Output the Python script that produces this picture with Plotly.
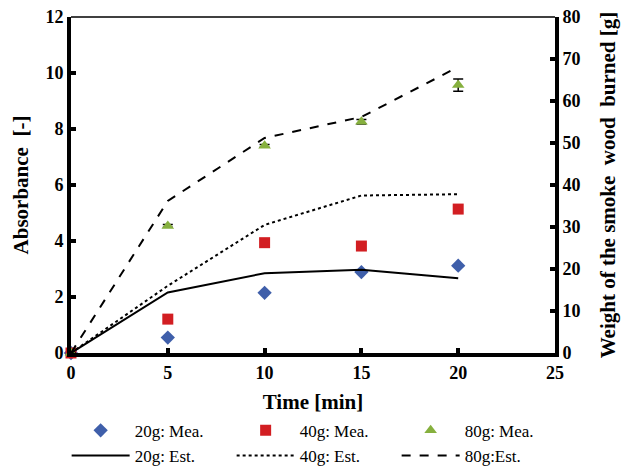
import plotly.graph_objects as go

time_min = [0, 5, 10, 15, 20]

# Measured absorbance [-] (left axis)
mea_20g = [0.0, 0.55, 2.15, 2.89, 3.12]
mea_40g = [0.0, 1.21, 3.94, 3.82, 5.14]
mea_80g = [0.0, 4.54, 7.40, 8.26, 9.57]
err_80g = [0.0, 0.05, 0.05, 0.08, 0.22]

# Estimated weight of smoke wood burned [g] (right axis)
est_20g = [0.0, 14.4, 19.0, 19.8, 17.8]
est_40g = [0.0, 16.0, 30.5, 37.5, 37.8]
est_80g = [0.0, 36.2, 51.2, 56.2, 68.1]

FONT = "Times New Roman, Liberation Serif, serif"

fig = go.Figure()

fig.add_trace(go.Scatter(x=time_min, y=mea_20g, mode="markers", name="20g: Mea.",
                         marker=dict(symbol="diamond", size=11, color="#3F5FAA"),
                         cliponaxis=False))
fig.add_trace(go.Scatter(x=time_min, y=mea_40g, mode="markers", name="40g: Mea.",
                         marker=dict(symbol="square", size=11, color="#D21E22"),
                         cliponaxis=False))
fig.add_trace(go.Scatter(x=time_min, y=mea_80g, mode="markers", name="80g: Mea.",
                         marker=dict(symbol="triangle-up", size=11, color="#86B03E"),
                         error_y=dict(type="data", array=err_80g, color="black",
                                      thickness=1.5, width=5),
                         cliponaxis=False))
fig.add_trace(go.Scatter(x=time_min, y=est_20g, mode="lines", name="20g: Est.",
                         line=dict(color="black", width=2), yaxis="y2"))
fig.add_trace(go.Scatter(x=time_min, y=est_40g, mode="lines", name="40g: Est.",
                         line=dict(color="black", width=2, dash="dot"), yaxis="y2"))
fig.add_trace(go.Scatter(x=time_min, y=est_80g, mode="lines", name="80g:Est.",
                         line=dict(color="black", width=2, dash="dash"), yaxis="y2"))

tickfont = dict(family=FONT, size=18, color="black", weight="bold")
titlefont = dict(family=FONT, size=21, color="black", weight="bold")

fig.update_layout(
    width=626, height=470,
    margin=dict(l=71, r=71, t=17, b=117, autoexpand=False),
    paper_bgcolor="white", plot_bgcolor="white",
    showlegend=True,
    font=dict(family=FONT, color="black"),
    xaxis=dict(range=[0, 25], tickvals=[0, 5, 10, 15, 20, 25], showgrid=False,
               zeroline=False, showline=True, linewidth=4, linecolor="black",
               ticks="inside", ticklen=5, tickwidth=4, tickcolor="black",
               tickfont=tickfont,
               title=dict(text="Time [min]", font=titlefont, standoff=14)),
    yaxis=dict(range=[0, 12], tickvals=[0, 2, 4, 6, 8, 10, 12], showgrid=False,
               zeroline=False, showline=True, linewidth=4, linecolor="black",
               ticks="inside", ticklen=5, tickwidth=4, tickcolor="black",
               tickfont=tickfont,
               title=dict(text="Absorbance  [-]", font=titlefont, standoff=12)),
    yaxis2=dict(range=[0, 80], tickvals=[0, 10, 20, 30, 40, 50, 60, 70, 80],
                overlaying="y", side="right", showgrid=False, zeroline=False,
                showline=True, linewidth=4, linecolor="black",
                ticks="inside", ticklen=5, tickwidth=4, tickcolor="black",
                tickfont=tickfont,
                title=dict(text="Weight of the smoke  wood  burned [g]", font=titlefont,
                           standoff=22)),
    legend=dict(orientation="h", x=-0.009, xanchor="left", y=-0.178, yanchor="top",
                entrywidth=92, entrywidthmode="pixels",
                font=dict(family=FONT, size=17, color="black"),
                bgcolor="rgba(0,0,0,0)", itemwidth=58),
    shapes=[dict(type="line", xref="paper", yref="paper", x0=0, x1=1, y0=1, y1=1,
                 line=dict(color="black", width=1.5))],
)

fig.write_html("out.html")
